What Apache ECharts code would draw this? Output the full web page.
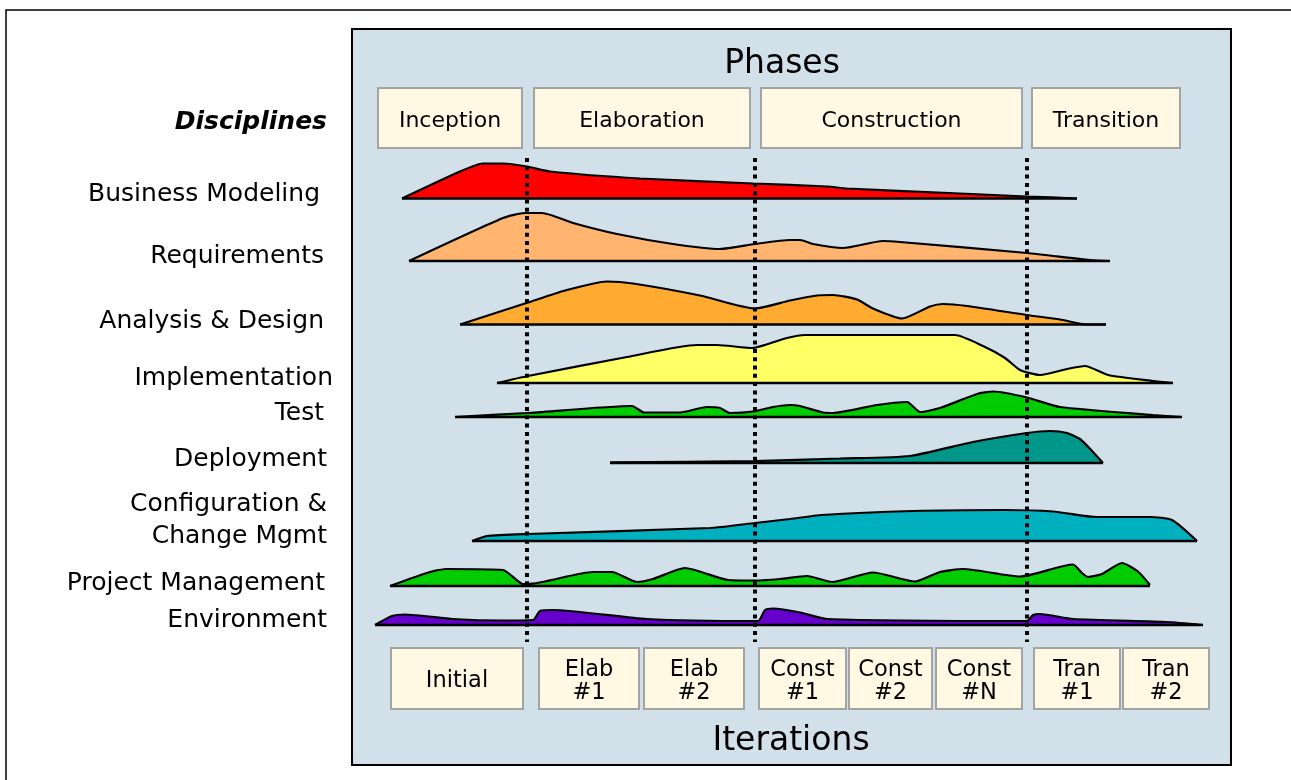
<!DOCTYPE html>
<html><head><meta charset="utf-8">
<script src="https://cdn.jsdelivr.net/npm/echarts/dist/echarts.min.js"></script>
<style>html,body{margin:0;padding:0;background:#fff}#c{width:1291px;height:780px}</style>
</head><body><div id="c"></div>
<script>
// ---------- DATA ----------
// x = time along project timeline (units from panel left), y = relative effort level
const disciplineNames = ['Business Modeling','Requirements','Analysis & Design','Implementation','Test','Deployment','Configuration &\nChange Mgmt','Project Management','Environment'];
const businessModeling = [[50,0],[108,27],[131,35],[151,35],[175,32],[198,27],[288,20],[401,15],[475,12],[495,10],[608,5],[675,2],[725,0]];
const requirements = [[57,0],[151,43],[173,48],[190,48],[221,38],[265,27],[321,17],[368,12],[403,17],[438,21],[448,21],[461,17],[491,13],[531,20],[548,19],[675,8],[738,1],[758,0]];
const analysisDesign = [[108,0],[176,22],[213,34],[255,43],[281,41],[348,29],[403,16],[438,24],[465,29],[481,29.5],[505,25],[521,16],[550,6],[578,18],[591,20.5],[615,18.5],[675,9.5],[708,5],[735,0],[754,0]];
const implementation = [[145,0],[176,7],[275,26],[345,38],[365,38],[400,35],[413,38],[435,45],[453,48],[603,48],[631,37],[653,25],[668,13],[688,8],[715,14],[733,17],[756,8],[801,2],[821,0]];
const test = [[103,0],[175,4],[280,11],[292,4.5],[328,4.5],[355,10],[368,9],[378,4],[401,5.5],[421,10],[438,12],[448,11],[471,4.5],[481,4],[525,12],[555,15],[568,5],[588,9],[625,23],[641,25.5],[675,19.5],[708,10],[801,2],[830,0]];
const deployment = [[258,0.6],[403,2],[488,4.5],[558,7],[621,21],[675,30],[698,32],[715,30],[728,24],[741,11],[751,0]];
const configChange = [[120,0],[135,5],[176,7],[358,13],[403,18],[438,22],[470,26],[561,30],[651,31],[701,29.5],[745,24],[798,24],[820,21],[845,0]];
const projectMgmt = [[38,0],[78,14],[95,17],[151,16],[171,2],[176,2],[241,14],[260,14],[285,4],[301,7],[333,18],[376,6],[403,5.5],[428,7],[455,10],[480,4],[521,13.5],[563,4.5],[588,14],[611,17],[668,9.5],[721,21.5],[730,13],[736,9],[750,12],[770,23],[786,14.5],[798,1]];
const environment = [[23,0],[40,9],[53,10.5],[101,6],[151,4.5],[181,5],[188,14],[201,15],[295,6],[406,4],[413,15],[421,16.5],[448,12.5],[475,6],[675,4],[681,10],[688,11],[721,6],[815,3],[851,0]];
const phases = ['Inception','Elaboration','Construction','Transition'];
const iterations = ['Initial','Elab\n#1','Elab\n#2','Const\n#1','Const\n#2','Const\n#N','Tran\n#1','Tran\n#2'];
const phaseBoundaries = [175, 403, 675];

// ---------- STYLE / LAYOUT ----------
const seriesData = [businessModeling, requirements, analysisDesign, implementation, test, deployment, configChange, projectMgmt, environment];
const colors = ['#ff0000','#ffb570','#ffaa30','#ffff66','#00cc00','#00968a','#00b0bf','#00cc00','#6600cc'];
const baselines = [198.5, 261, 324.5, 383, 417, 463, 541, 586, 625];
const labelY = [194, 256, 321, 378, 413, 459, 520, 583, 620];
const labelX = [320, 324, 324, 333, 324, 327, 327, 325, 327];
const phaseBoxes = [[378,88,144,60],[534,88,216,60],[761,88,261,60],[1032,88,148,60]];
const iterBoxes = [[391,648,132,61],[539,648,100,61],[644,648,100,61],[759,648,87,61],[849,648,83,61],[936,648,86,61],[1034,648,86,61],[1123,648,86,61]];
const FONT = '"DejaVu Sans", Verdana, sans-serif';
const PL = 352, PW = 879, PT = 29, PH = 736, RH = 50;

const grids = [{left: PL, top: PT, width: PW, height: PH, show: true, backgroundColor: '#d2e0ea', borderColor: '#000', borderWidth: 2}];
const xAxes = [{gridIndex: 0, type: 'value', min: 0, max: PW, show: false}];
const yAxes = [{gridIndex: 0, type: 'value', min: 0, max: PH, inverse: true, show: false}];
const series = [];
seriesData.forEach((d, i) => {
  grids.push({left: PL, width: PW, top: baselines[i] - RH, height: RH, show: false});
  xAxes.push({gridIndex: i + 1, type: 'value', min: 0, max: PW, show: false});
  yAxes.push({gridIndex: i + 1, type: 'value', min: 0, max: RH, show: false});
  series.push({
    name: disciplineNames[i], type: 'line', xAxisIndex: i + 1, yAxisIndex: i + 1, data: d,
    smooth: 0.2, symbol: 'none', clip: false, z: 3,
    lineStyle: {color: '#000', width: 2.2}, areaStyle: {color: colors[i], opacity: 1}
  });
  series.push({
    type: 'line', xAxisIndex: i + 1, yAxisIndex: i + 1, data: [[d[0][0], 0], [d[d.length - 1][0], 0]],
    symbol: 'none', clip: false, z: 4, lineStyle: {color: '#000', width: 2.5}
  });
});
phaseBoundaries.forEach(x => {
  series.push({
    type: 'line', xAxisIndex: 0, yAxisIndex: 0, data: [[x, 129], [x, 613]], symbol: 'none', z: 6,
    lineStyle: {color: '#000', width: 4, type: [4, 4.3], cap: 'butt'}
  });
});

const graphic = [];
graphic.push({type: 'rect', shape: {x: 6, y: 10, width: 1400, height: 900}, style: {fill: 'none', stroke: '#000', lineWidth: 1.5}, z: 100});
function txt(t, x, y, size, opts) {
  return Object.assign({type: 'text', z: 100, style: Object.assign({text: t, x: x, y: y, font: size + 'px ' + FONT, fill: '#000',
    textAlign: 'center', align: 'center', textVerticalAlign: 'middle', verticalAlign: 'middle'}, opts || {})});
}
graphic.push(txt('Phases', 782, 64, 33));
graphic.push(txt('Iterations', 791, 741, 33));
graphic.push(txt('Disciplines', 327, 122, 25, {font: 'italic bold 25px ' + FONT, textAlign: 'right', align: 'right'}));
disciplineNames.forEach((n, i) => {
  graphic.push(txt(n, labelX[i], labelY[i], 25, {textAlign: 'right', align: 'right', lineHeight: 32}));
});
phases.forEach((p, i) => {
  const b = phaseBoxes[i];
  graphic.push({type: 'rect', z: 99, shape: {x: b[0], y: b[1], width: b[2], height: b[3]}, style: {fill: '#fff8e2', stroke: '#a3a3a3', lineWidth: 2}});
  graphic.push(txt(p, b[0] + b[2] / 2, b[1] + b[3] / 2 + 3, 22));
});
iterations.forEach((p, i) => {
  const b = iterBoxes[i];
  graphic.push({type: 'rect', z: 99, shape: {x: b[0], y: b[1], width: b[2], height: b[3]}, style: {fill: '#fff8e2', stroke: '#a3a3a3', lineWidth: 2}});
  graphic.push(txt(p, b[0] + b[2] / 2, b[1] + b[3] / 2 + 3, 22.5, {lineHeight: 23}));
});

const chart = echarts.init(document.getElementById('c'));
chart.setOption({animation: false, grid: grids, xAxis: xAxes, yAxis: yAxes, series: series, graphic: graphic});
</script></body></html>
